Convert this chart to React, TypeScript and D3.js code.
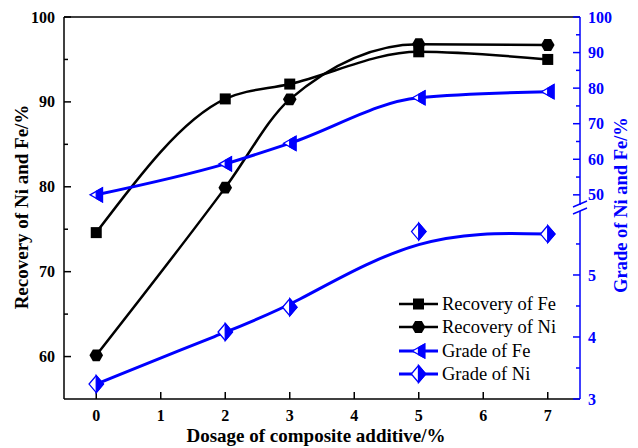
import React from 'react';
import * as d3 from 'd3';

const dosage = [0, 2, 3, 5, 7];
const recoveryFe = [74.6, 90.35, 92.1, 95.9, 95.0];
const recoveryNi = [60.15, 79.9, 90.3, 96.8, 96.7];
const gradeFe = [50.0, 58.7, 64.5, 77.3, 79.0];
const gradeNi = [3.24, 4.08, 4.48, 5.7, 5.66];

const xTicks = [0, 1, 2, 3, 4, 5, 6, 7];
const leftTicks = [60, 70, 80, 90, 100];
const leftMinor = [65, 75, 85, 95];
const rightUpperTicks = [50, 60, 70, 80, 90, 100];
const rightUpperMinor = [55, 65, 75, 85, 95];
const rightLowerTicks = [3, 4, 5];
const rightLowerMinor = [3.5, 4.5, 5.5];
const legendLabels = ['Recovery of Fe', 'Recovery of Ni', 'Grade of Fe', 'Grade of Ni'];

const W = 638, H = 448;
const L = 64, R = 580, T = 17, B = 399;
const breakY = 208;
const BLUE = '#0000ff';
const FONT = '"Liberation Serif", "Times New Roman", serif';

function Square({ cx, cy }: { cx: number; cy: number }) {
  return <rect x={cx - 5.5} y={cy - 5.5} width={11} height={11} fill="#000" />;
}
function Hexagon({ cx, cy }: { cx: number; cy: number }) {
  const r = 6.8;
  const pts = d3.range(6).map(i => {
    const a = (Math.PI / 3) * i;
    return [cx + r * Math.cos(a), cy + r * Math.sin(a)].join(',');
  });
  return <polygon points={pts.join(' ')} fill="#000" />;
}
function TriLeft({ cx, cy }: { cx: number; cy: number }) {
  const w = 6.2, h = 7;
  const outline = `${cx - w},${cy} ${cx + w},${cy - h} ${cx + w},${cy + h}`;
  const half = `${cx},${cy - h / 2} ${cx + w},${cy - h} ${cx + w},${cy + h} ${cx},${cy + h / 2}`;
  return (
    <g>
      <polygon points={outline} fill="#fff" stroke={BLUE} strokeWidth={1.3} />
      <polygon points={half} fill={BLUE} stroke={BLUE} strokeWidth={1.3} />
    </g>
  );
}
function Diamond({ cx, cy }: { cx: number; cy: number }) {
  const w = 7.2, h = 8.5;
  const outline = `${cx},${cy - h} ${cx + w},${cy} ${cx},${cy + h} ${cx - w},${cy}`;
  const half = `${cx},${cy - h} ${cx + w},${cy} ${cx},${cy + h}`;
  return (
    <g>
      <polygon points={outline} fill="#fff" stroke={BLUE} strokeWidth={1.3} />
      <polygon points={half} fill={BLUE} stroke={BLUE} strokeWidth={1.3} />
    </g>
  );
}

export default function App() {
  const x = d3.scaleLinear().domain([-0.5, 7.5]).range([L, R]);
  const yL = d3.scaleLinear().domain([55, 100]).range([B, T]);
  const yU = d3.scaleLinear().domain([46.3, 100]).range([breakY, T]);
  const yLo = d3.scaleLinear().domain([3, 6.08]).range([B, breakY]);

  const mk = (vals: number[], ys: (v: number) => number, curve: d3.CurveFactory) =>
    d3.line<number>().x((_, i) => x(dosage[i])).y(v => ys(v)).curve(curve)(vals) || '';

  const pFe = mk(recoveryFe, yL, d3.curveMonotoneX);
  const pNi = mk(recoveryNi, yL, d3.curveMonotoneX);
  const pGFe = mk(gradeFe, yU, d3.curveMonotoneX);
  const pGNi = mk(gradeNi, yLo, d3.curveBasis);

  const tickFont = { fontFamily: FONT, fontWeight: 'bold' as const, fontSize: 16 };
  const legendY = [304, 327, 351, 374];
  const lx0 = 399, lx1 = 438, lxm = 418.5;

  return (
    <svg width={W} height={H} style={{ position: 'absolute', left: 0, top: 0, background: '#fff' }}>
      <rect x={0} y={0} width={W} height={H} fill="#fff" />
      {/* frame */}
      <line x1={L} y1={T} x2={R} y2={T} stroke="#000" strokeWidth={1.5} />
      <line x1={L} y1={B} x2={R} y2={B} stroke="#000" strokeWidth={1.5} />
      <line x1={L} y1={T} x2={L} y2={B} stroke="#000" strokeWidth={1.5} />
      {/* right axis with break */}
      <line x1={R} y1={T} x2={R} y2={breakY - 3} stroke={BLUE} strokeWidth={1.5} />
      <line x1={R} y1={breakY + 3} x2={R} y2={B} stroke={BLUE} strokeWidth={1.5} />
      <line x1={R - 7} y1={breakY - 1} x2={R + 7} y2={breakY - 7} stroke={BLUE} strokeWidth={1.4} />
      <line x1={R - 7} y1={breakY + 6} x2={R + 7} y2={breakY} stroke={BLUE} strokeWidth={1.4} />

      {/* x ticks */}
      {xTicks.map(t => (
        <g key={'xt' + t}>
          <line x1={x(t)} y1={B} x2={x(t)} y2={B - 7} stroke="#000" strokeWidth={1.5} />
          <text x={x(t)} y={B + 22} textAnchor="middle" {...tickFont}>{t}</text>
        </g>
      ))}
      {/* left ticks */}
      {leftTicks.map(t => (
        <g key={'lt' + t}>
          <line x1={L} y1={yL(t)} x2={L + 7} y2={yL(t)} stroke="#000" strokeWidth={1.5} />
          <text x={L - 9} y={yL(t)} dy="0.35em" textAnchor="end" {...tickFont}>{t}</text>
        </g>
      ))}
      {leftMinor.map(t => (
        <line key={'lm' + t} x1={L} y1={yL(t)} x2={L + 4} y2={yL(t)} stroke="#000" strokeWidth={1.5} />
      ))}
      {/* right ticks */}
      {rightUpperTicks.map(t => (
        <g key={'ru' + t}>
          <line x1={R} y1={yU(t)} x2={R - 7} y2={yU(t)} stroke={BLUE} strokeWidth={1.5} />
          <text x={R + 8} y={yU(t)} dy="0.35em" textAnchor="start" {...tickFont} fill={BLUE}>{t}</text>
        </g>
      ))}
      {rightUpperMinor.map(t => (
        <line key={'rum' + t} x1={R} y1={yU(t)} x2={R - 4} y2={yU(t)} stroke={BLUE} strokeWidth={1.5} />
      ))}
      {rightLowerTicks.map(t => (
        <g key={'rl' + t}>
          <line x1={R} y1={yLo(t)} x2={R - 7} y2={yLo(t)} stroke={BLUE} strokeWidth={1.5} />
          <text x={R + 8} y={yLo(t)} dy="0.35em" textAnchor="start" {...tickFont} fill={BLUE}>{t}</text>
        </g>
      ))}
      {rightLowerMinor.map(t => (
        <line key={'rlm' + t} x1={R} y1={yLo(t)} x2={R - 4} y2={yLo(t)} stroke={BLUE} strokeWidth={1.5} />
      ))}

      {/* axis titles */}
      <text x={316} y={442} textAnchor="middle" fontFamily={FONT} fontWeight="bold" fontSize={19}>
        Dosage of composite additive/%
      </text>
      <text transform={`translate(21,207) rotate(-90)`} dy="0.35em" textAnchor="middle"
        fontFamily={FONT} fontWeight="bold" fontSize={19}>Recovery of Ni and Fe/%</text>
      <text transform={`translate(621,205) rotate(-90)`} dy="0.35em" textAnchor="middle"
        fontFamily={FONT} fontWeight="bold" fontSize={18.5} fill={BLUE}>Grade of Ni and Fe/%</text>

      {/* series */}
      <path d={pFe} fill="none" stroke="#000" strokeWidth={2.5} />
      {recoveryFe.map((v, i) => <Square key={'sf' + i} cx={x(dosage[i])} cy={yL(v)} />)}
      <path d={pNi} fill="none" stroke="#000" strokeWidth={2.5} />
      {recoveryNi.map((v, i) => <Hexagon key={'sn' + i} cx={x(dosage[i])} cy={yL(v)} />)}
      <path d={pGFe} fill="none" stroke={BLUE} strokeWidth={3} />
      {gradeFe.map((v, i) => <TriLeft key={'gf' + i} cx={x(dosage[i])} cy={yU(v)} />)}
      <path d={pGNi} fill="none" stroke={BLUE} strokeWidth={3} />
      {gradeNi.map((v, i) => <Diamond key={'gn' + i} cx={x(dosage[i])} cy={yLo(v)} />)}

      {/* legend */}
      {legendLabels.map((lab, i) => {
        const cy = legendY[i];
        const color = i < 2 ? '#000' : BLUE;
        return (
          <g key={'lg' + i}>
            <line x1={lx0} y1={cy} x2={lx1} y2={cy} stroke={color} strokeWidth={i < 2 ? 2.5 : 3} />
            {i === 0 && <Square cx={lxm} cy={cy} />}
            {i === 1 && <Hexagon cx={lxm} cy={cy} />}
            {i === 2 && <TriLeft cx={lxm} cy={cy} />}
            {i === 3 && <Diamond cx={lxm} cy={cy} />}
            <text x={442} y={cy} dy="0.35em" fontFamily={FONT} fontSize={18.5}>{lab}</text>
          </g>
        );
      })}
    </svg>
  );
}
